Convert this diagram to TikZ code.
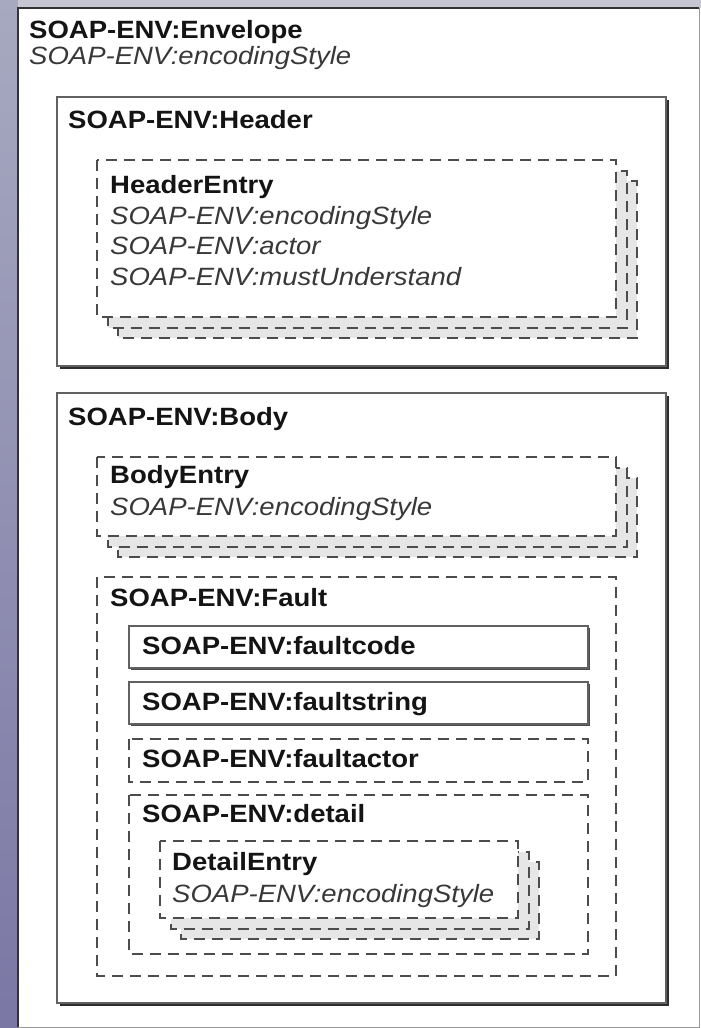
\documentclass[tikz,border=0pt]{standalone}
\usepackage{fontspec}
\newfontfamily\soapfont[FakeStretch=1.1]{Liberation Sans}
\definecolor{stripTop}{HTML}{A7A9C0}
\definecolor{stripBot}{HTML}{7B77A5}
\definecolor{topBand}{HTML}{C6C7D3}
\definecolor{stackGray}{HTML}{E6E6E6}
\tikzset{
  title/.style={anchor=base west, inner sep=0pt,
    font=\soapfont\bfseries\fontsize{25}{30}\selectfont, text=black!92},
  attr/.style={anchor=base west, inner sep=0pt,
    font=\soapfont\itshape\fontsize{25}{30}\selectfont, text=black!78},
  solidbox/.style={draw=black!62, line width=2pt, fill=white},
  boxshadow/.style={fill=black!82},
  dashbox/.style={draw=black!70, line width=2pt, dash pattern=on 11pt off 7pt, fill=white},
  stackbox/.style={dashbox, fill=stackGray},
}
% three dashed cards stacked with a 10.5 unit offset: #1,#2 = top left, #3,#4 = bottom right of the front card
\newcommand\entrystack[4]{%
  \draw[stackbox] (#1+21,#2+21) rectangle (#3+21,#4+21);
  \draw[stackbox] (#1+10.5,#2+10.5) rectangle (#3+10.5,#4+10.5);
  \draw[dashbox] (#1,#2) rectangle (#3,#4);
}
\begin{document}
\begin{tikzpicture}[x=1pt,y=-1pt]
\useasboundingbox (0,0) rectangle (701,1028);

% backdrop
\fill[white] (0,0) rectangle (701,1028);
\shade[top color=stripTop, bottom color=stripBot] (0,0) rectangle (18,1028);
\fill[topBand] (18,0) rectangle (701,8);

% envelope sheet
\fill[white] (18,8) rectangle (699,1027);
\draw[black!40, line width=1pt] (18,1027) -- (699,1027) -- (699,8);
\draw[black!80, line width=2.4pt] (18,1027) -- (18,8) -- (699,8);
\node[title] (envTitle) at (29,38) {SOAP-ENV:Envelope};
\node[attr] (envAttr) at (29,64) {SOAP-ENV:encodingStyle};

% header
\fill[boxshadow] (59.5,99.5) rectangle (668.5,368.5);
\draw[solidbox] (57,97) rectangle (666,366);
\node[title] (hdrTitle) at (68,128) {SOAP-ENV:Header};
\entrystack{97}{160}{616}{317}
\node[title] (hdrEntry) at (110,193) {HeaderEntry};
\node[attr] (hdrEnc) at (110,224) {SOAP-ENV:encodingStyle};
\node[attr] (hdrActor) at (110,254.5) {SOAP-ENV:actor};
\node[attr] (hdrMust) at (110,285) {SOAP-ENV:mustUnderstand};

% body
\fill[boxshadow] (59.5,395.5) rectangle (668.5,1005.5);
\draw[solidbox] (57,393) rectangle (666,1003);
\node[title] (bodyTitle) at (68,425) {SOAP-ENV:Body};
\entrystack{97}{457}{616}{536}
\node[title] (bodyEntry) at (110,483) {BodyEntry};
\node[attr] (bodyEnc) at (110,515) {SOAP-ENV:encodingStyle};

% fault
\draw[dashbox] (97,577) rectangle (616,976);
\node[title] (faultTitle) at (110,606) {SOAP-ENV:Fault};

\fill[black!70] (130.5,627.5) rectangle (589.5,669.5);
\draw[solidbox, line width=1.6pt] (129,626) rectangle (588,668);
\node[title] (faultCode) at (142,654) {SOAP-ENV:faultcode};

\fill[black!70] (130.5,683.5) rectangle (589.5,725.5);
\draw[solidbox, line width=1.6pt] (129,682) rectangle (588,724);
\node[title] (faultString) at (142,710) {SOAP-ENV:faultstring};

\draw[dashbox] (129,739) rectangle (588,782);
\node[title] (faultActor) at (142,767) {SOAP-ENV:faultactor};

\draw[dashbox] (129,795) rectangle (588,954);
\node[title] (detailTitle) at (142,822) {SOAP-ENV:detail};
\entrystack{160}{841}{518}{918}
\node[title] (detailEntry) at (172,870) {DetailEntry};
\node[attr] (detailEnc) at (172,902) {SOAP-ENV:encodingStyle};
\end{tikzpicture}
\end{document}
